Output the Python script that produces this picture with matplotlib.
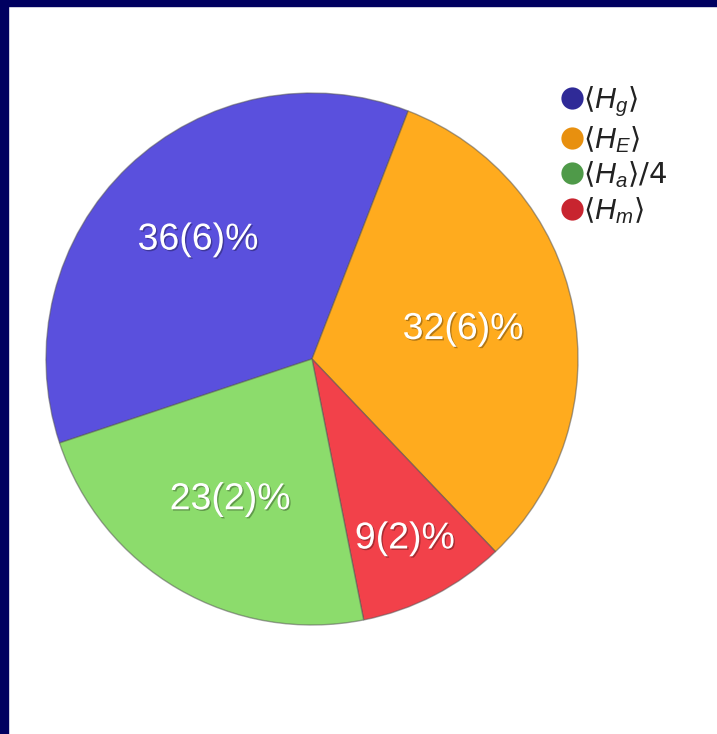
import matplotlib.pyplot as plt
import matplotlib.patheffects as pe
from matplotlib.lines import Line2D
from matplotlib.patches import Rectangle
import numpy as np

plt.rcParams['mathtext.fontset'] = 'custom'
plt.rcParams['mathtext.rm'] = 'DejaVu Sans'
plt.rcParams['mathtext.it'] = 'Liberation Sans:italic'

# Data (clockwise from the blue slice)
shares = [36, 32, 9, 23]
labels = ['36(6)%', '32(6)%', '9(2)%', '23(2)%']
colors = ['#5a50dd', '#ffab1e', '#f2414a', '#8cdc6c']
label_dist = [0.62, 0.58, 0.76, 0.61]

legend_labels = ['⟨$H_g$⟩', '⟨$H_E$⟩', r'⟨$H_a$⟩$\mathit{/4}$', '⟨$H_m$⟩']
legend_colors = ['#2f2a97', '#e8900f', '#4f9a49', '#c8242f']

W, H = 717, 734
fig = plt.figure(figsize=(W / 100, H / 100), dpi=100)
ax = fig.add_axes([0, 0, 1, 1])

# navy frame on top and left
fig.patches.append(Rectangle((0, 0), 8 / W, 1, transform=fig.transFigure, color='#000060'))
fig.patches.append(Rectangle((0, 1 - 6 / H), 1, 6 / H, transform=fig.transFigure, color='#000060'))

center = (312, H - 359)
radius = 266
wedges, _ = ax.pie(shares, colors=colors, startangle=198.4, counterclock=False,
                   center=center, radius=radius, frame=True,
                   wedgeprops=dict(edgecolor='#55555588', linewidth=1.0))
ax.set_xlim(0, W)
ax.set_ylim(0, H)
ax.set_aspect('equal')
ax.axis('off')

for w, lab, d in zip(wedges, labels, label_dist):
    ang = np.deg2rad((w.theta1 + w.theta2) / 2)
    x = center[0] + d * radius * np.cos(ang)
    y = center[1] + d * radius * np.sin(ang)
    ax.text(x, y, lab, ha='center', va='center', color='white', fontsize=27,
            family='Liberation Sans',
            path_effects=[pe.SimplePatchShadow(offset=(1, -1), shadow_rgbFace='black', alpha=0.3),
                          pe.Normal()])

handles = [Line2D([], [], marker='o', linestyle='none', markersize=16,
                  markerfacecolor=c, markeredgecolor='none') for c in legend_colors]
leg = ax.legend(handles, legend_labels, loc='upper left', bbox_to_anchor=(544 / W, 1 - 70 / H),
                bbox_transform=fig.transFigure, frameon=False,
                handletextpad=-0.05, labelspacing=0.16, borderpad=0, handlelength=0.9,
                prop={'family': 'DejaVu Sans', 'size': 21})
for t in leg.get_texts():
    t.set_color('#222222')

fig.savefig('out.png', dpi=100, facecolor='white')
